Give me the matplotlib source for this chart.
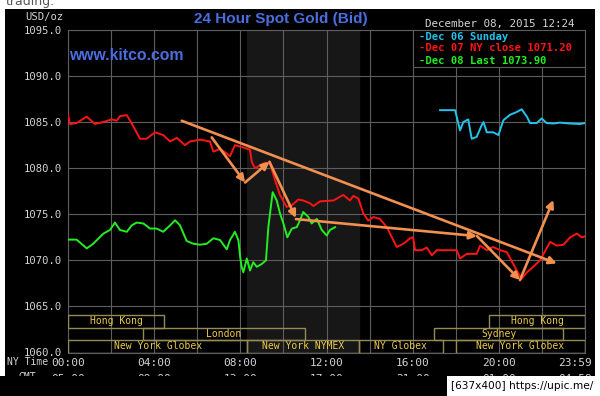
import matplotlib
matplotlib.use("Agg")
import matplotlib.pyplot as plt
import matplotlib.transforms as mtransforms
from matplotlib.patches import Rectangle

# hour of day (NY time) and bid price
red_h = [0.0, 0.09, 0.40, 0.87, 1.25, 1.62, 2.03, 2.26, 2.41, 2.73, 2.96, 3.34, 3.65, 4.04, 4.42,
         4.74, 5.05, 5.43, 5.66, 6.13, 6.59, 6.75, 7.06, 7.37, 7.52, 7.75, 8.14, 8.45, 8.53, 8.68,
         8.91, 9.15, 9.38, 9.61, 9.84, 10.15, 10.40, 10.69, 10.92, 11.23, 11.39, 11.70, 12.32,
         12.78, 13.09, 13.25, 13.48, 13.71, 13.94, 14.17, 14.48, 14.80, 15.10, 15.26, 15.57,
         15.88, 16.02, 16.11, 16.42, 16.65, 16.89, 17.12, 17.27, 18.05, 18.20, 18.51, 18.97,
         19.13, 19.44, 19.74, 20.06, 20.37, 20.67, 20.91, 21.06, 21.30, 21.60, 21.91, 22.22,
         22.38, 22.69, 23.00, 23.31, 23.62, 23.85, 24.0]
red_p = [1085.8, 1084.8, 1084.9, 1085.6, 1084.8, 1085.0, 1085.3, 1085.15, 1085.65, 1085.76,
         1084.86, 1083.2, 1083.2, 1083.9, 1083.6, 1082.9, 1083.3, 1082.5, 1082.9, 1083.1,
         1082.9, 1081.8, 1082.1, 1081.6, 1081.3, 1082.5, 1082.25, 1082.0, 1080.7, 1080.0,
         1080.3, 1080.6, 1080.5, 1078.7, 1077.1, 1075.8, 1076.0, 1076.6, 1076.5, 1076.2,
         1075.9, 1076.4, 1076.5, 1077.1, 1076.5, 1077.0, 1076.7, 1075.1, 1074.3, 1074.7,
         1074.5, 1073.6, 1072.2, 1071.45, 1071.8, 1072.4, 1072.5, 1071.1, 1071.1, 1071.4,
         1070.55, 1071.1, 1071.1, 1071.1, 1070.2, 1070.7, 1070.7, 1071.6, 1071.1, 1071.45,
         1071.1, 1070.9, 1069.6, 1068.55, 1068.0, 1068.7, 1069.3, 1070.0, 1071.3, 1072.0,
         1071.6, 1071.7, 1072.5, 1072.9, 1072.5, 1072.6]

green_h = [0.0, 0.40, 0.87, 1.17, 1.64, 1.95, 2.18, 2.41, 2.73, 2.96, 3.19, 3.50, 3.81, 4.12,
           4.42, 4.74, 4.97, 5.20, 5.51, 5.82, 6.13, 6.44, 6.75, 7.06, 7.37, 7.52, 7.75, 7.91,
           7.99, 8.06, 8.14, 8.30, 8.45, 8.60, 8.76, 8.99, 9.19, 9.30, 9.50, 9.69, 9.84, 10.00,
           10.18, 10.39, 10.62, 10.77, 10.92, 11.16, 11.31, 11.55, 11.78, 12.01, 12.16, 12.40]
green_p = [1072.25, 1072.25, 1071.3, 1071.8, 1072.9, 1073.3, 1074.1, 1073.3, 1073.1, 1073.8,
           1074.1, 1074.0, 1073.45, 1073.45, 1073.1, 1073.8, 1074.35, 1073.8, 1072.1, 1071.8,
           1071.7, 1071.8, 1072.4, 1072.2, 1071.2, 1072.2, 1073.1, 1072.2, 1070.4, 1069.3,
           1068.7, 1070.2, 1068.9, 1069.8, 1069.3, 1069.6, 1070.0, 1073.6, 1077.4, 1076.5,
           1075.1, 1074.0, 1072.5, 1073.45, 1073.6, 1074.35, 1075.25, 1074.7, 1074.0, 1074.5,
           1073.3, 1072.7, 1073.3, 1073.6]

cyan_h = [17.27, 17.97, 18.20, 18.35, 18.58, 18.74, 18.97, 19.21, 19.29, 19.44, 19.74, 19.98,
          20.21, 20.52, 20.83, 21.06, 21.30, 21.45, 21.76, 21.99, 22.22, 22.53, 22.84, 23.31,
          23.77, 24.0]
cyan_p = [1086.3, 1086.3, 1084.1, 1085.0, 1085.3, 1083.2, 1083.4, 1084.7, 1085.0, 1083.9,
          1083.9, 1083.6, 1085.2, 1085.8, 1086.1, 1086.4, 1085.6, 1084.9, 1084.9, 1085.4,
          1084.9, 1084.85, 1084.95, 1084.85, 1084.8, 1084.9]

# hand drawn orange arrows: (start hour, start price, end hour, end price)
arrows = [
    (5.28, 1085.15, 22.69, 1069.67),
    (10.58, 1074.48, 18.99, 1072.63),
    (18.99, 1072.63, 20.98, 1067.86),
    (20.98, 1067.86, 22.53, 1076.55),
    (6.67, 1083.35, 8.22, 1078.45),
    (8.22, 1078.45, 9.35, 1080.7),
    (9.35, 1080.7, 10.58, 1074.6),
]

# trading sessions: name, start hour, end hour, row (0 = top)
sessions = [
    ("Hong Kong", 0.0, 4.46, 0),
    ("Hong Kong", 19.54, 24.0, 0),
    ("London", 3.48, 11.0, 1),
    ("Sydney", 17.0, 23.0, 1),
    ("New York Globex", 0.0, 8.33, 2),
    ("New York NYMEX", 8.33, 13.5, 2),
    ("NY Globex", 13.5, 17.4, 2),
    ("New York Globex", 18.0, 24.0, 2),
]

hours = [0, 4, 8, 12, 16, 20, 24]
ny_labels = ["00:00", "04:00", "08:00", "12:00", "16:00", "20:00", "23:59"]
gmt_labels = ["05:00", "09:00", "13:00", "17:00", "21:00", "01:00", "04:59"]
yticks = [1060, 1065, 1070, 1075, 1080, 1085, 1090, 1095]

mono = "DejaVu Sans Mono"
W, H = 600, 396

fig = plt.figure(figsize=(6, 3.96), dpi=100, facecolor="white")

def px(x, y):
    # figure pixel (from top-left) -> figure fraction
    return x / W, 1 - y / H

# black panel
fig.patches.append(Rectangle(px(5, 396), 590 / W, 387 / H, transform=fig.transFigure,
                             facecolor="black", edgecolor="none", zorder=0))

ax = fig.add_axes([68 / W, 1 - 352.5 / H, 517 / W, 322.5 / H])
ax.set_zorder(2)
ax.set_facecolor("black")
ax.set_xlim(0, 24)
ax.set_ylim(1060, 1095)
ax.set_xticks(range(0, 25, 2))
ax.set_yticks(yticks)
ax.set_xticklabels([])
ax.set_yticklabels([f"{v:.1f}" for v in yticks], fontfamily=mono, fontsize=7.6, color="#d4d4d4")
ax.tick_params(length=0, pad=4)
ax.grid(True, color="#5e5e5e", lw=0.8)
ax.set_axisbelow(True)
for s in ax.spines.values():
    s.set_color("#5e5e5e")
    s.set_linewidth(0.8)

# NYMEX hours shading
ax.axvspan(8.33, 13.5, color="#171717", zorder=0)

ax.plot(red_h, red_p, color="#ff1414", lw=1.4, zorder=3)
ax.plot(green_h, green_p, color="#22ee22", lw=1.4, zorder=3)
ax.plot(cyan_h, cyan_p, color="#22c4ee", lw=1.4, zorder=3)

for x0, y0, x1, y1 in arrows:
    ax.annotate("", xy=(x1, y1), xytext=(x0, y0),
                arrowprops=dict(arrowstyle="-|>", color="#f2904f", lw=1.9,
                                mutation_scale=11, shrinkA=0, shrinkB=0), zorder=5)

row_h = 1.35
for name, s0, s1, row in sessions:
    bottom = 1060 + (2 - row) * row_h
    ax.add_patch(Rectangle((s0, bottom), s1 - s0, row_h, fill=False,
                           edgecolor="#958b55", lw=1, zorder=4))
    ax.text((s0 + s1) / 2, bottom + row_h / 2, name, ha="center", va="center",
            fontfamily=mono, fontsize=7.0, color="#eccb4c", zorder=4)

# legend box
ax.add_patch(Rectangle((0.667, 0.886), 0.333, 0.114, transform=ax.transAxes,
                       facecolor="black", edgecolor="#5e5e5e", lw=0.8, zorder=6))
legend = [("-Dec 06 Sunday", "#22c4ee", 0.979),
          ("-Dec 07 NY close 1071.20", "#ff1414", 0.943),
          ("-Dec 08 Last 1073.90", "#22ee22", 0.905)]
for txt, c, yy in legend:
    ax.text(0.679, yy, txt, transform=ax.transAxes, ha="left", va="center",
            fontfamily=mono, fontsize=7.6, fontweight="bold", color=c, zorder=7)

# the screenshot is cut just below the top of the GMT row
visible = mtransforms.TransformedBbox(mtransforms.Bbox([[0, 20 / H], [1, 1]]), fig.transFigure)

# x labels (two rows)
trans = mtransforms.blended_transform_factory(ax.transData, ax.transAxes)
for h, ny, gmt in zip(hours, ny_labels, gmt_labels):
    dx = -10 if h == 24 else 0
    ax.annotate(ny, xy=(h, 0), xycoords=trans, xytext=(dx, -10), textcoords="offset pixels",
                ha="center", va="center", fontfamily=mono, fontsize=8, color="#d4d4d4",
                annotation_clip=False)
    g = ax.annotate(gmt, xy=(h, 0), xycoords=trans, xytext=(dx, -26), textcoords="offset pixels",
                    ha="center", va="center", fontfamily=mono, fontsize=8, color="#d4d4d4",
                    annotation_clip=False)
    g.set_clip_box(visible)
    g.set_clip_on(True)

fig.text(*px(48, 362), "NY Time", ha="right", va="center", fontfamily=mono, fontsize=7.0, color="#d4d4d4")
t = fig.text(*px(36, 377), "GMT", ha="right", va="center", fontfamily=mono, fontsize=7.0, color="#d4d4d4")
t.set_clip_box(visible)
t.set_clip_on(True)

# header texts
fig.text(*px(63, 17), "USD/oz", ha="right", va="center", fontfamily=mono, fontsize=7.6, color="#d4d4d4")
fig.text(*px(281, 19), "24 Hour Spot Gold (Bid)", ha="center", va="center",
         fontfamily="Liberation Sans", fontsize=11, fontweight="bold", color="#4a6ee0")
fig.text(*px(69, 55), "www.kitco.com", ha="left", va="center",
         fontfamily="Liberation Sans", fontsize=11.3, fontweight="bold", color="#4a6ee0")
fig.text(*px(500, 24), "December 08, 2015 12:24", ha="center", va="center",
         fontfamily=mono, fontsize=7.8, color="#d4d4d4")

# bottom cut of the screenshot and upload stamp
fig.patches.append(Rectangle(px(0, 396), 447 / W, 20 / H, transform=fig.transFigure,
                             facecolor="black", edgecolor="none", zorder=10))
fig.patches.append(Rectangle(px(447, 396), 153 / W, 20 / H, transform=fig.transFigure,
                             facecolor="white", edgecolor="none", zorder=10))
fig.text(*px(522, 386), "[637x400] https://upic.me/", ha="center", va="center",
         fontfamily="DejaVu Sans", fontsize=7.6, color="black", zorder=11)
fig.text(*px(6, 5), "trading.", ha="left", va="baseline",
         fontfamily="DejaVu Sans", fontsize=9, color="#555555")

fig.savefig("out.png", dpi=100, facecolor="white")
